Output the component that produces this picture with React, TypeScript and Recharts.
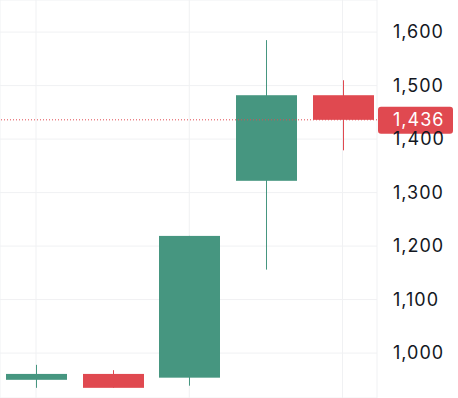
import React from "react";
import {
  ComposedChart,
  Bar,
  XAxis,
  YAxis,
  CartesianGrid,
  ReferenceLine
} from "recharts";

const idx = [0, 1, 2, 3, 4];
const opens = [950, 961, 954, 1322, 1482];
const closes = [961, 935, 1219, 1482, 1436];
const highs = [978, 968, 1219, 1585, 1510];
const lows = [935, 935, 939, 1156, 1379];
const yTicks = [1000, 1100, 1200, 1300, 1400, 1500, 1600];
const lastPrice = 1436;

const UP = "#469680";
const DOWN = "#e04950";

type Candle = { i: number; open: number; close: number; high: number; low: number };

const data: Candle[] = idx.map((i, k) => ({
  i,
  open: opens[k],
  close: closes[k],
  high: highs[k],
  low: lows[k]
}));

const fmt = (v: number) => v.toLocaleString("en-US");

const CandleShape = (props: any) => {
  const { x, y, width, height, payload } = props;
  if (!payload) return null;
  const { open, close, high, low } = payload as Candle;
  const toY = (v: number) => y + ((high - v) / (high - low)) * height;
  const cx = Math.round(x + width / 2) + 0.5;
  const color = close >= open ? UP : DOWN;
  const top = toY(Math.max(open, close));
  const bottom = toY(Math.min(open, close));
  const bodyW = 61;
  return (
    <g>
      <line x1={cx} x2={cx} y1={y} y2={y + height} stroke={color} strokeWidth={1} />
      <rect
        x={cx - bodyW / 2}
        y={top}
        width={bodyW}
        height={Math.max(1, bottom - top)}
        fill={color}
      />
    </g>
  );
};

const PriceLabel = (props: any) => {
  const vb = props.viewBox || {};
  const right = (vb.x || 0) + (vb.width || 0);
  const cy = vb.y || 0;
  return (
    <g>
      <rect x={right + 1} y={cy - 13} width={75} height={27} rx={3} fill={DOWN} />
      <text
        x={right + 16}
        y={cy + 1}
        dominantBaseline="middle"
        fill="#ffffff"
        fontSize={18}
        letterSpacing={1}
        fontFamily="Inter, sans-serif"
      >
        {fmt(lastPrice)}
      </text>
    </g>
  );
};

export default function App() {
  return (
    <div style={{ position: "absolute", left: 0, top: 0 }}>
      <ComposedChart
        width={458}
        height={398}
        data={data}
        margin={{ top: 0, right: 0, bottom: 0, left: 0 }}
      >
        <CartesianGrid stroke="#f0f1f3" strokeWidth={1} />
        <XAxis
          type="number"
          dataKey="i"
          domain={[-0.47, 4.45]}
          ticks={[0, 2, 4]}
          hide
          allowDataOverflow
        />
        <YAxis
          orientation="right"
          width={81}
          domain={[916, 1660]}
          ticks={yTicks}
          tickFormatter={fmt}
          axisLine={false}
          tickLine={false}
          tickSize={0}
          tickMargin={16}
          allowDataOverflow
          tick={{
            fill: "#131722",
            fontSize: 18,
            letterSpacing: 1,
            fontFamily: "Inter, sans-serif"
          }}
        />
        <Bar
          dataKey={(d: Candle) => [d.low, d.high]}
          barSize={61}
          shape={<CandleShape />}
          isAnimationActive={false}
        />
        <ReferenceLine
          y={lastPrice}
          stroke={DOWN}
          strokeDasharray="1 2"
          label={<PriceLabel />}
        />
      </ComposedChart>
    </div>
  );
}
